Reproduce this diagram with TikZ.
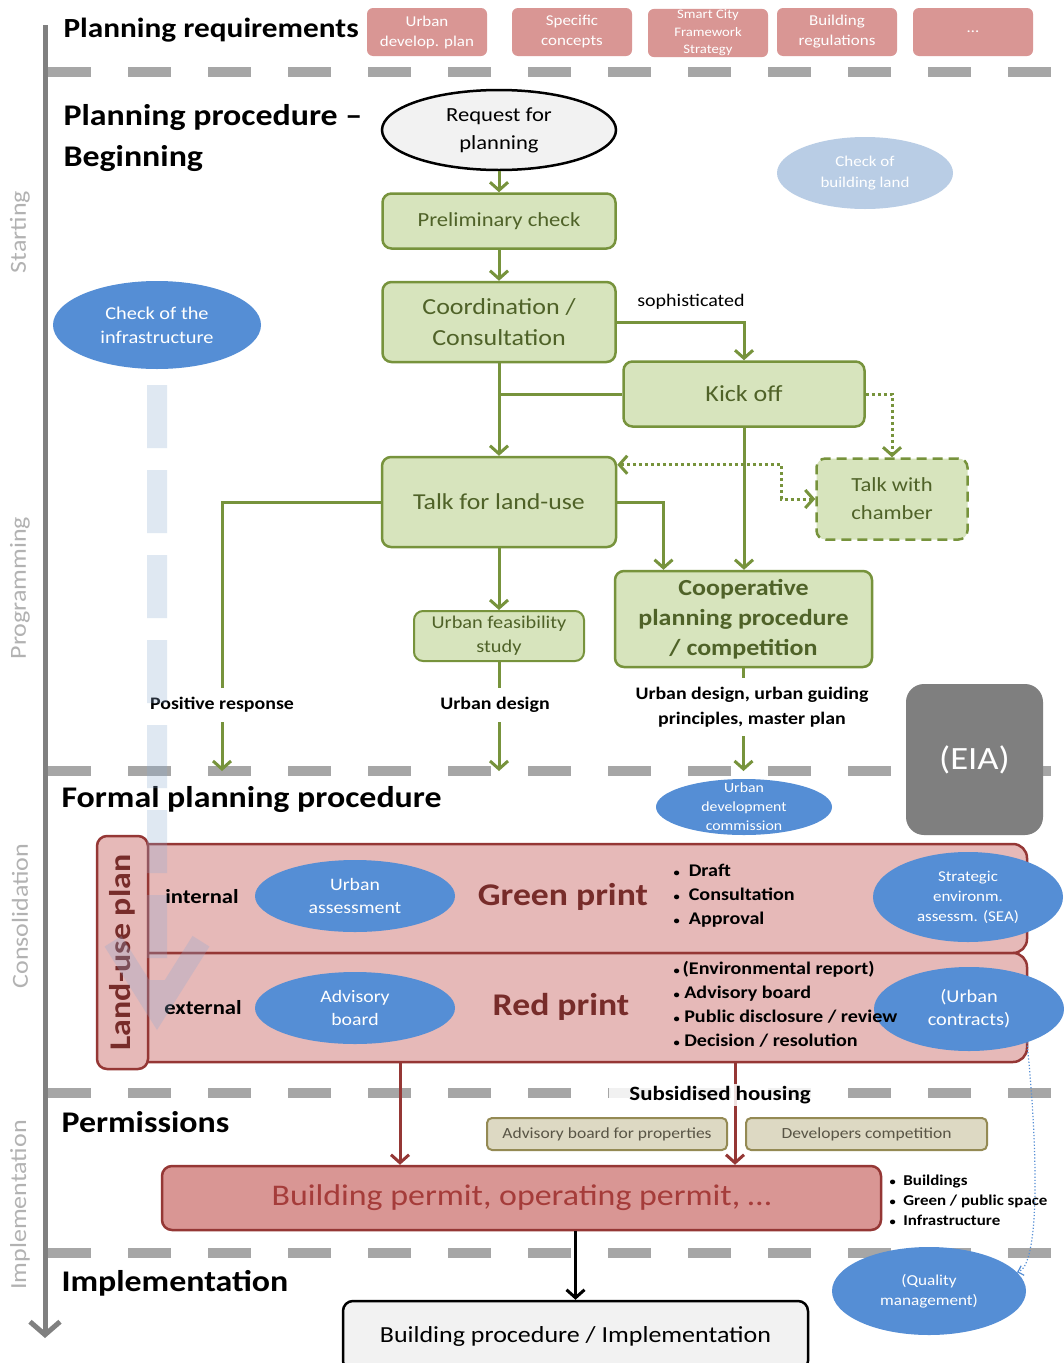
\documentclass[tikz,border=0pt]{standalone}
\usepackage{fontspec}
\setmainfont{Carlito}[FakeStretch=1.13]
\usetikzlibrary{arrows.meta,positioning,shapes.geometric,calc}
\definecolor{LeafLine}{RGB}{119,147,60}
\definecolor{LeafFill}{RGB}{215,228,189}
\definecolor{LeafText}{RGB}{79,98,40}
\definecolor{RoseFill}{RGB}{217,150,148}
\definecolor{PlanFill}{RGB}{230,185,184}
\definecolor{BrickLine}{RGB}{149,55,53}
\definecolor{BrickText}{RGB}{119,44,42}
\definecolor{PermitText}{RGB}{165,60,58}
\definecolor{SkyBlue}{RGB}{85,142,213}
\definecolor{PaleSky}{RGB}{185,205,229}
\definecolor{SandFill}{RGB}{221,217,195}
\definecolor{SandLine}{RGB}{148,138,84}
\definecolor{SandText}{RGB}{89,85,70}
\definecolor{AxisGray}{RGB}{128,128,128}
\definecolor{SepGray}{RGB}{166,166,166}
\definecolor{PhaseGray}{RGB}{178,178,178}
\definecolor{StoneGray}{RGB}{127,127,127}
\definecolor{MistGray}{RGB}{242,242,242}
\definecolor{GhostBlue}{RGB}{140,170,210}
\newcommand{\blt}{{\fontsize{11}{11}\selectfont\textbullet}}
\tikzset{
  reqbox/.style={fill=RoseFill,rounded corners=6pt,text=white,minimum width=120pt,
    minimum height=48pt,align=center,inner sep=1pt,font=\fontsize{15}{20}\selectfont},
  stepbox/.style={draw=LeafLine,fill=LeafFill,line width=2.5pt,rounded corners=9pt,
    text=LeafText,align=center,inner sep=2pt},
  blob/.style={ellipse,fill=SkyBlue,text=white,align=center,inner sep=0pt},
  heading/.style={anchor=west,align=left,font=\fontsize{30}{41}\selectfont\bfseries},
  phase/.style={rotate=90,text=PhaseGray,font=\fontsize{23}{26}\selectfont},
  note/.style={fill=white,inner xsep=2pt,inner ysep=9pt,align=center,
    font=\fontsize{17.6}{25}\selectfont\bfseries},
  bullets/.style={anchor=west,align=left,font=\fontsize{17.8}{24}\selectfont\bfseries},
  printrow/.style={draw=BrickLine,fill=PlanFill,line width=2.5pt,rounded corners=14pt,
    minimum width=892pt,minimum height=109pt},
  sandbox/.style={draw=SandLine,fill=SandFill,line width=2pt,rounded corners=5pt,
    text=SandText,minimum height=32pt,font=\fontsize{15.5}{18}\selectfont},
  sep/.style={SepGray,line width=10pt,dash pattern=on 43pt off 37pt},
  flow/.style={LeafLine,line width=3pt,-{Straight Barb[length=8pt,width=18pt]}},
  link/.style={LeafLine,line width=3pt},
  hint/.style={LeafLine,line width=3pt,dash pattern=on 3pt off 3pt,
    -{Straight Barb[length=8pt,width=18pt]}},
  redflow/.style={BrickLine,line width=3pt,-{Straight Barb[length=8pt,width=18pt]}}
}

\begin{document}
\begin{tikzpicture}[x=1pt,y=-1pt]
\fill[white] (0,0) rectangle (1064,1363);
\useasboundingbox (0,0) rectangle (1064,1363);

% phase separators and time axis
\foreach \y in {72,771,1093,1253}
  \draw[sep] (48,\y) -- (1052,\y);
\coordinate (formaltop) at (0,771);
\coordinate (posend) at (222,771);
\coordinate (ghostend) at (157,1030);
\draw[AxisGray,line width=5pt,-{Straight Barb[length=13pt,width=30pt]}] (45,25) -- (45,1338);
\node[phase] (ph1) at (20,232) {Starting};
\node[phase] (ph2) at (20,588) {Programming};
\node[phase] (ph3) at (20,916) {Consolidation};
\node[phase] (ph4) at (20,1205) {Implementation};

% planning requirements
\node[heading,font=\fontsize{27.7}{32}\selectfont\bfseries] (reqs) at (60,30) {Planning requirements};
\node[reqbox] (r1) at (427,32) {Urban\\develop. plan};
\node[reqbox] (r2) at (572,32) {Specific\\concepts};
\node[reqbox,font=\fontsize{13}{17.5}\selectfont] (r3) at (708,33) {Smart City\\Framework\\Strategy};
\node[reqbox] (r4) at (837,32) {Building\\regulations};
\node[reqbox] (r5) at (973,32) {…};

% beginning
\node[heading] (begin) at (60,138) {Planning procedure –\\Beginning};
\node[ellipse,draw=black,line width=2.5pt,fill=MistGray,minimum width=234pt,minimum height=80pt,
  align=center,inner sep=0pt,font=\fontsize{20}{28}\selectfont] (req) at (499,130) {Request for\\planning};
\node[stepbox,minimum width=233pt,minimum height=55pt,font=\fontsize{20}{26}\selectfont] (pre) at (499,221) {Preliminary check};
\node[stepbox,minimum width=233pt,minimum height=80pt,font=\fontsize{23}{31}\selectfont] (coord) at (499,322) {Coordination /\\Consultation};
\node[stepbox,minimum width=241pt,minimum height=65pt,font=\fontsize{23}{31}\selectfont] (kick) at (744,394) {Kick off};
\node[stepbox,minimum width=234pt,minimum height=90pt,font=\fontsize{22.8}{30}\selectfont] (tfl) at (499,502) {Talk for land-use};
\node[stepbox,dash pattern=on 10pt off 6pt,minimum width=151pt,minimum height=81pt,
  font=\fontsize{20}{28}\selectfont] (twc) at (892,499) {Talk with\\chamber};
\node[stepbox,line width=2pt,minimum width=170pt,minimum height=50pt,font=\fontsize{18}{24}\selectfont] (ufs) at (499,636) {Urban feasibility\\study};
\node[stepbox,minimum width=257pt,minimum height=96pt,font=\fontsize{23}{30}\selectfont\bfseries] (coop) at (743.5,619) {Cooperative\\planning procedure\\/ competition};
\node[blob,fill=PaleSky,minimum width=176pt,minimum height=72pt,font=\fontsize{15}{21}\selectfont] (cbl) at (865,173) {Check of\\building land};
\node[blob,minimum width=208pt,minimum height=88pt,font=\fontsize{18}{24}\selectfont] (infra) at (157,325) {Check of the\\infrastructure};

\draw[flow] (req.south) -- (pre.north);
\draw[flow] (pre.south) -- (coord.north);
\draw[flow] (coord.east) -| (kick.north);
\node[font=\fontsize{17.7}{20}\selectfont] (soph) at (691,302) {sophisticated};
\draw[flow] (coord.south) -- (tfl.north);
\draw[link] (kick.west) -- (kick.west -| tfl.north);
\draw[hint] (kick.east) -| (twc.north);
\draw[hint,{Straight Barb[length=8pt,width=18pt]}-{Straight Barb[length=8pt,width=18pt]}]
  ([yshift=-9]tfl.north east) -| ([xshift=-34]twc.west) -- (twc.west);
\draw[flow] (kick.south) -- (kick.south |- coop.north);
\draw[flow] (tfl.east) -| ([xshift=-80]coop.north);
\draw[flow] (tfl.south) -- (ufs.north);
\draw[flow] (tfl.west) -| (posend);
\draw[flow] (ufs.south) -- (ufs.south |- formaltop);
\draw[flow] (coop.south) -- (coop.south |- formaltop);
\node[note] (posresp) at (222,705) {Positive response};
\node[note] (udlabel) at (495,705) {Urban design};
\node[note] (mplabel) at (752,707) {Urban design, urban guiding\\principles, master plan};

% formal planning procedure
\node[fill=StoneGray,rounded corners=18pt,minimum width=137pt,minimum height=151pt,text=white,
  font=\fontsize{32.5}{40}\selectfont] (eia) at (974.5,759.5) {(EIA)};
\node[heading] (formal) at (58,800) {Formal planning procedure};
\node[blob,minimum width=176pt,minimum height=56pt,
  label={[text=white,align=center,font=\fontsize{14}{19}\selectfont]center:Urban\\development\\commission}] (udc) at (744,807) {};

\node[printrow] (gprow) at (581,898.5) {};
\node[printrow] (rprow) at (581,1007.5) {};
\node[draw=BrickLine,fill=PlanFill,line width=2.5pt,rounded corners=10pt,rotate=90,
  minimum width=233pt,minimum height=51pt,text=BrickText,
  font=\fontsize{30}{34}\selectfont\bfseries] (lup) at (122.5,952.5) {Land-use plan};
\node[font=\fontsize{20}{22}\selectfont\bfseries] (int) at (202,897) {internal};
\node[font=\fontsize{20}{22}\selectfont\bfseries] (ext) at (203,1008) {external};
\node[blob,minimum width=200pt,minimum height=72pt,font=\fontsize{17.5}{23}\selectfont] (uas) at (355,896) {Urban\\assessment};
\node[blob,minimum width=200pt,minimum height=72pt,font=\fontsize{17.5}{23}\selectfont] (adb) at (355,1008) {Advisory\\board};
\node[text=BrickText,font=\fontsize{31.6}{34}\selectfont\bfseries] (green) at (563,897) {Green print};
\node[text=BrickText,font=\fontsize{31.6}{34}\selectfont\bfseries] (red) at (561,1007) {Red print};
\node[blob,minimum width=190pt,minimum height=90pt,font=\fontsize{15}{20}\selectfont] (sea) at (968,897) {Strategic\\environm.\\assessm. (SEA)};
\node[blob,minimum width=190pt,minimum height=84pt,font=\fontsize{18}{23}\selectfont] (uct) at (969,1009) {(Urban\\contracts)};
\node[bullets] (gsteps) at (670,896) {\blt\ \ Draft\\\blt\ \ Consultation\\\blt\ \ Approval};
\node[bullets] (rsteps) at (670,1004) {\blt\,(Environmental report)\\\blt\ Advisory board\\
  \blt\ Public disclosure / review\\\blt\ Decision / resolution};

% infrastructure check runs through the stages
\begin{scope}[transparency group,opacity=0.27]
\draw[GhostBlue,line width=20pt,dash pattern=on 63pt off 22pt,dash phase=69,
  -{Straight Barb[length=70pt,width=88pt]}] (infra.south) -- (ghostend);
\end{scope}

% permissions
\node[heading] (perm) at (58,1122) {Permissions};
\node[sandbox,minimum width=240pt] (abp) at (607,1134) {Advisory board for properties};
\node[sandbox,minimum width=241pt,right=17pt of abp] (dev) {Developers competition};
\node[draw=BrickLine,fill=RoseFill,line width=2.5pt,rounded corners=10pt,minimum width=719pt,
  minimum height=64pt,text=PermitText,font=\fontsize{30}{34}\selectfont] (permit) at (521.5,1198) {Building permit, operating permit, …};
\node[bullets,font=\fontsize{15}{20}\selectfont\bfseries] (psteps) at (886,1200)
  {\blt\ \ Buildings\\\blt\ \ Green / public space\\\blt\ \ Infrastructure};
\draw[redflow] ([xshift=-181]rprow.south) -- ([xshift=-121.5]permit.north);
\draw[redflow] ([xshift=154]rprow.south) -- ([xshift=213.5]permit.north);
\node[fill=white,fill opacity=0.85,text opacity=1,inner xsep=20pt,inner ysep=2pt,
  font=\fontsize{20.3}{24}\selectfont\bfseries] (sub) at (720,1095) {Subsidised housing};

% implementation
\node[heading] (impl) at (58,1283) {Implementation};
\node[draw=black,fill=MistGray,line width=2.5pt,rounded corners=10pt,minimum width=465pt,
  minimum height=70pt,font=\fontsize{23}{28}\selectfont] (bproc) at (575.5,1336) {Building procedure / Implementation};
\node[blob,minimum width=194pt,minimum height=88pt,font=\fontsize{15.2}{20}\selectfont] (qm) at (929,1291) {(Quality\\management)};
\draw[line width=3pt,-{Straight Barb[length=8pt,width=18pt]}] (bproc.north |- permit.south) -- (bproc.north);
\draw[SkyBlue,line width=1.2pt,dotted,-{Straight Barb[length=5pt,width=10pt]}]
  (uct.-30) .. controls (1038,1150) and (1040,1265) .. (qm.12);

\end{tikzpicture}
\end{document}
